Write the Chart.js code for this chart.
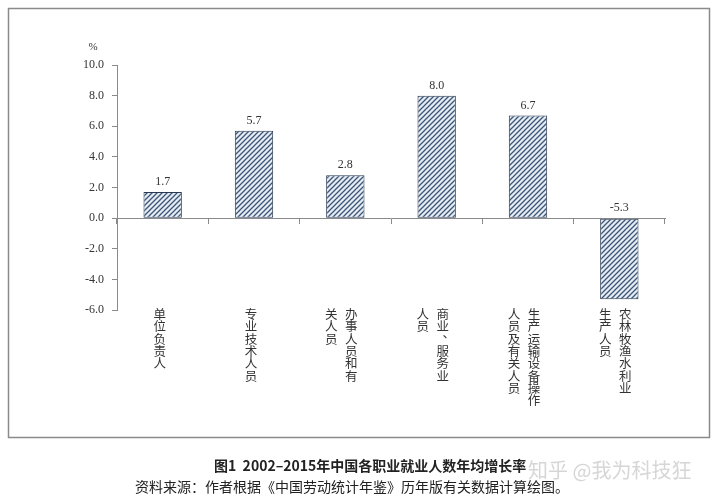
<!DOCTYPE html>
<html>
<head>
<meta charset="utf-8">
<script src="https://cdn.jsdelivr.net/npm/chart.js@4/dist/chart.umd.min.js"></script>
<style>
  html, body { margin: 0; padding: 0; background: #fff; }
  #wrap { width: 720px; height: 504px; }
</style>
</head>
<body>
<div id="wrap"><canvas id="myChart" width="720" height="504"></canvas></div>
<script>
// each category is split into its vertical columns (first column is drawn on the right)
const categories = [
  ["单位负责人"],
  ["专业技术人员"],
  ["办事人员和有", "关人员"],
  ["商业、服务业", "人员"],
  ["生产运输设备操作", "人员及有关人员"],
  ["农林牧渔水利业", "生产人员"],
];
const growth = [1.7, 5.7, 2.8, 8.0, 6.7, -5.3];
const yMin = -6;
const yMax = 10;
const yStep = 2;
const unitLabel = "%";
const title = "图1  2002–2015年中国各职业就业人数年均增长率";
const source = "资料来源：作者根据《中国劳动统计年鉴》历年版有关数据计算绘图。";
const watermark = "知乎 @我为科技狂";

function stripes() {
  const s = 5;
  const c = document.createElement("canvas");
  c.width = s;
  c.height = s;
  const g = c.getContext("2d");
  g.fillStyle = "#e6ecf3";
  g.fillRect(0, 0, s, s);
  g.strokeStyle = "#3d5677";
  g.lineWidth = 1.3;
  g.beginPath();
  g.moveTo(0, s); g.lineTo(s, 0);
  g.moveTo(-1, 1); g.lineTo(1, -1);
  g.moveTo(s - 1, s + 1); g.lineTo(s + 1, s - 1);
  g.stroke();
  return g.createPattern(c, "repeat");
}

const decor = {
  id: "decor",
  afterDraw(chart) {
    const c = chart.ctx;
    const x = chart.scales.x;
    const y = chart.scales.y;
    c.save();
    // frame
    c.strokeStyle = "#8a8a8a";
    c.lineWidth = 1.5;
    c.strokeRect(8.5, 8.5, 701, 429);

    // unit
    c.fillStyle = "#333";
    c.font = "11px 'Liberation Serif'";
    c.textAlign = "center";
    c.textBaseline = "middle";
    c.fillText(unitLabel, 93, 47);

    // value labels
    c.font = "12px 'Liberation Serif'";
    c.textBaseline = "alphabetic";
    growth.forEach((v, i) => {
      const px = x.getPixelForValue(i);
      const py = y.getPixelForValue(Math.max(v, 0));
      c.fillText(v.toFixed(1), px, py - 7);
    });

    // vertical category labels
    c.font = "12.5px 'Noto Sans CJK SC'";
    c.textBaseline = "top";
    const colGap = 20;
    const charH = 12.3;
    categories.forEach((cols, i) => {
      const cx = x.getPixelForValue(i) - (cols.length > 1 ? 4 : 3);
      cols.forEach((line, j) => {
        const colX = cx + ((cols.length - 1) / 2 - j) * colGap;
        Array.from(line).forEach((ch, k) => {
          let ox = 0, oy = 0;
          if (ch === "、") { ox = 6; oy = -6; }
          c.fillText(ch, colX + ox, 308 + k * charH + oy);
        });
      });
    });

    // caption
    c.fillStyle = "#222";
    c.textAlign = "left";
    c.textBaseline = "middle";
    c.font = "bold 14px 'Noto Sans CJK SC'";
    c.fillText(title, 214, 466);
    c.font = "14px 'Noto Sans CJK SC'";
    c.fillText(source, 135, 487);

    // watermark
    c.fillStyle = "rgba(200,200,200,0.75)";
    c.font = "20px 'Noto Sans CJK SC'";
    c.fillText(watermark, 528, 470);
    c.restore();
  },
};

const ctx = document.getElementById("myChart");

new Chart(ctx, {
  type: "bar",
  data: {
    labels: categories.map((c) => c.join("")),
    datasets: [
      {
        data: growth,
        backgroundColor: stripes(),
        borderColor: "#2a3a52",
        borderWidth: 1,
        borderSkipped: false,
        barPercentage: 0.42,
        categoryPercentage: 1,
      },
    ],
  },
  options: {
    responsive: false,
    animation: false,
    layout: {
      padding: { left: 0, top: 65, right: 55, bottom: 194 },
    },
    scales: {
      x: {
        position: { y: 0 },
        border: { color: "#8a8a8a", width: 1 },
        grid: {
          offset: true,
          drawOnChartArea: false,
          drawTicks: true,
          tickLength: 5,
          color: "#8a8a8a",
        },
        ticks: { display: false },
      },
      y: {
        min: yMin,
        max: yMax,
        afterFit(scale) {
          scale.width = 117;
        },
        border: { color: "#8a8a8a", width: 1 },
        grid: {
          drawOnChartArea: false,
          drawTicks: true,
          tickLength: 5,
          color: "#8a8a8a",
        },
        ticks: {
          stepSize: yStep,
          padding: 8,
          color: "#333",
          font: { family: "Liberation Serif", size: 12 },
          callback: (v) => v.toFixed(1),
        },
      },
    },
    plugins: {
      legend: { display: false },
      tooltip: { enabled: false },
    },
  },
  plugins: [decor],
});
</script>
</body>
</html>
